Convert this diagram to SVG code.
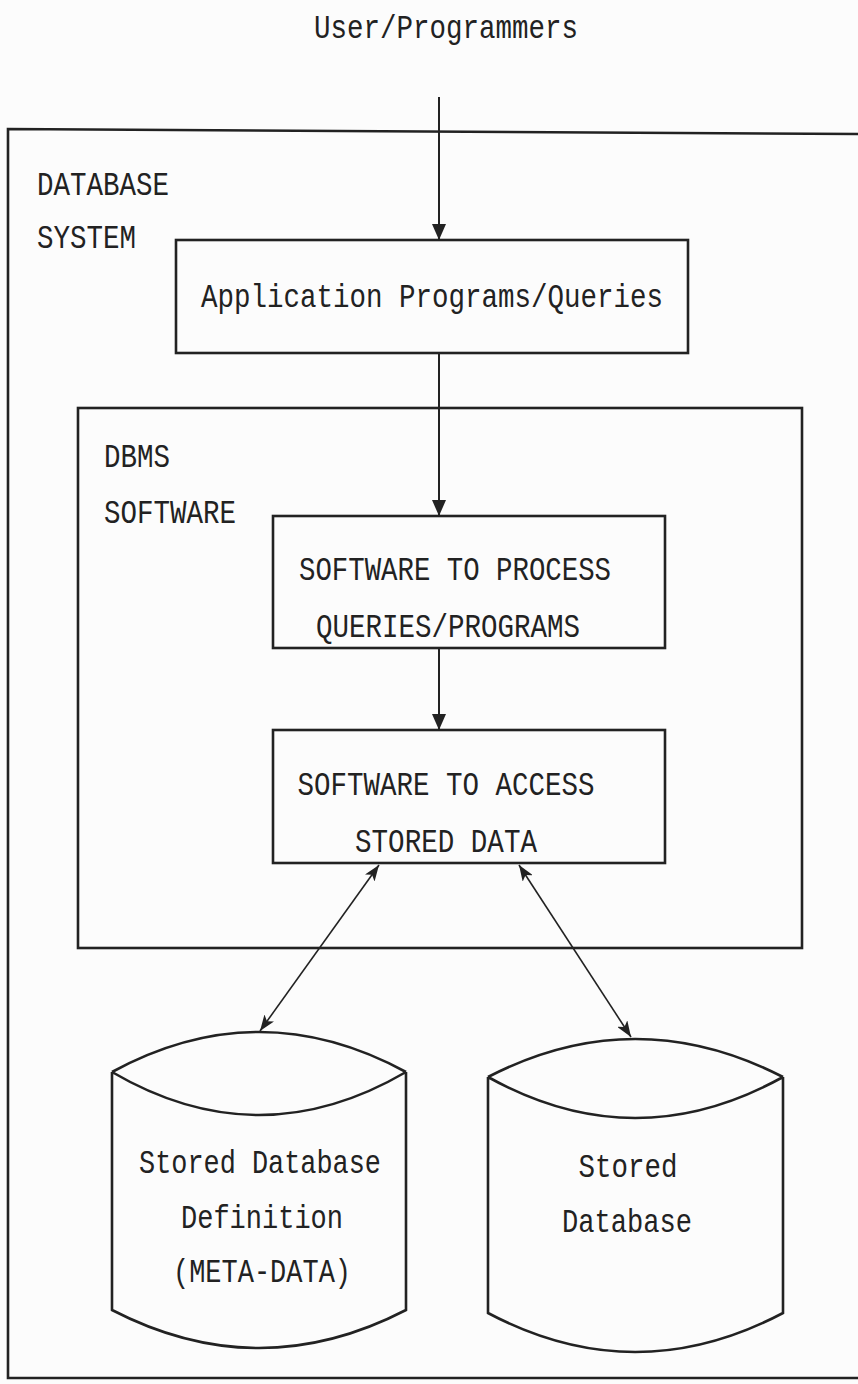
<svg xmlns="http://www.w3.org/2000/svg" width="858" height="1384" viewBox="0 0 858 1384">
<style>
text{font-family:"Liberation Mono","Courier New",monospace;font-size:34px;fill:#222}
.box{fill:none;stroke:#222;stroke-width:2.6}
.ln{fill:none;stroke:#222;stroke-width:2}
.thin{fill:none;stroke:#222;stroke-width:1.6}
</style>
<defs>
<marker id="ab" viewBox="0 0 16 12" refX="16" refY="6" markerWidth="16" markerHeight="12" markerUnits="userSpaceOnUse" orient="auto-start-reverse">
<path d="M0,0 L16,6 L0,12 L4,6 Z" fill="#222"/>
</marker>
<marker id="av" viewBox="0 0 16 14" refX="16" refY="7" markerWidth="16" markerHeight="14" markerUnits="userSpaceOnUse" orient="auto">
<path d="M0,0 L16,7 L0,14 Z" fill="#222"/>
</marker>
</defs>
<rect width="858" height="1384" fill="#fcfcfc"/>

<text id="user-label" x="446" y="38" text-anchor="middle" textLength="264" lengthAdjust="spacingAndGlyphs">User/Programmers</text>

<g id="database-system">
<path class="box" d="M858,134 L8,129 L8,1378 L858,1378"/>
<text x="37" y="195" textLength="132" lengthAdjust="spacingAndGlyphs">DATABASE</text>
<text x="37" y="248" textLength="99" lengthAdjust="spacingAndGlyphs">SYSTEM</text>
</g>

<g id="application-programs">
<rect class="box" x="176" y="240" width="512" height="113"/>
<text x="432" y="307" text-anchor="middle" textLength="462" lengthAdjust="spacingAndGlyphs">Application Programs/Queries</text>
</g>

<g id="dbms-software">
<rect class="box" x="78" y="408" width="724" height="540"/>
<text x="104" y="467" textLength="66" lengthAdjust="spacingAndGlyphs">DBMS</text>
<text x="104" y="523" textLength="132" lengthAdjust="spacingAndGlyphs">SOFTWARE</text>
</g>

<g id="process-queries">
<rect class="box" x="273" y="516" width="392" height="132"/>
<text x="455" y="580" text-anchor="middle" textLength="312" lengthAdjust="spacingAndGlyphs">SOFTWARE TO PROCESS</text>
<text x="448" y="637" text-anchor="middle" textLength="264" lengthAdjust="spacingAndGlyphs">QUERIES/PROGRAMS</text>
</g>

<g id="access-data">
<rect class="box" x="273" y="730" width="392" height="133"/>
<text x="446" y="795" text-anchor="middle" textLength="297" lengthAdjust="spacingAndGlyphs">SOFTWARE TO ACCESS</text>
<text x="446" y="852" text-anchor="middle" textLength="182" lengthAdjust="spacingAndGlyphs">STORED DATA</text>
</g>

<g id="meta-data">
<path class="box" d="M112,1072 Q259,992 406,1072 M112,1072 Q259,1158 406,1072 M112,1072 L112,1310 Q259,1386 406,1310 L406,1072"/>
<text x="260" y="1173" text-anchor="middle" textLength="242" lengthAdjust="spacingAndGlyphs">Stored Database</text>
<text x="262" y="1228" text-anchor="middle" textLength="162" lengthAdjust="spacingAndGlyphs">Definition</text>
<text x="262" y="1282" text-anchor="middle" textLength="178" lengthAdjust="spacingAndGlyphs">(META-DATA)</text>
</g>

<g id="stored-database">
<path class="box" d="M488,1077 Q635,1001 783,1077 M488,1077 Q635,1159 783,1077 M488,1077 L488,1313 Q635,1391 783,1313 L783,1077"/>
<text x="628" y="1177" text-anchor="middle" textLength="99" lengthAdjust="spacingAndGlyphs">Stored</text>
<text x="627" y="1232" text-anchor="middle" textLength="130" lengthAdjust="spacingAndGlyphs">Database</text>
</g>

<g id="connectors">
<line class="ln" x1="439" y1="97" x2="439" y2="240" marker-end="url(#av)"/>
<line class="ln" x1="439" y1="353" x2="439" y2="516" marker-end="url(#av)"/>
<line class="ln" x1="439" y1="648" x2="439" y2="730" marker-end="url(#av)"/>
<line class="thin" x1="379" y1="865" x2="260" y2="1031" marker-start="url(#ab)" marker-end="url(#ab)"/>
<line class="thin" x1="519" y1="865" x2="631" y2="1037" marker-start="url(#ab)" marker-end="url(#ab)"/>
</g>
</svg>
